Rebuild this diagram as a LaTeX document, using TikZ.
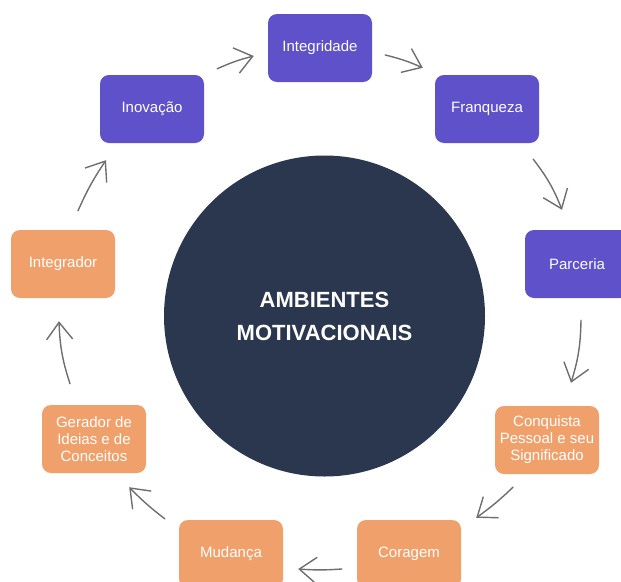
\documentclass[tikz,border=0pt]{standalone}
\usepackage{fontspec}
\setmainfont{Liberation Sans}
\usepackage{tikz}
\usetikzlibrary{arrows.meta}

\definecolor{purple_fill}{HTML}{5E51C9}
\definecolor{orange_fill}{HTML}{F0A06B}
\definecolor{navy_fill}{HTML}{2A374F}
\definecolor{arrow_gray}{HTML}{6E6E6E}

\begin{document}
\begin{tikzpicture}[x=1pt, y=1pt]

	\tikzstyle{value_node}=[rectangle, rounded corners=9pt, fill=purple_fill, text=white, minimum width=104pt, minimum height=68pt, align=center, font=\fontsize{15}{17}\selectfont]
	\tikzstyle{role_node}=[value_node, fill=orange_fill]
	\tikzstyle{center_node}=[circle, fill=navy_fill, text=white, minimum size=321pt, align=center, font=\fontsize{22}{33}\selectfont\bfseries]
	\tikzstyle{flow_arrow}=[-{Straight Barb[length=17pt, width=26pt]}, draw=arrow_gray, line width=1.4pt, line cap=round]

	\clip (0, 0) rectangle (621, -581);

	%Main nodes
	\node[center_node] at (324.5, -316) (center) {AMBIENTES\\MOTIVACIONAIS};

	\node[value_node] at (320, -48) (integridade) {Integridade};
	\node[value_node] at (487, -109) (franqueza) {Franqueza};
	\node[value_node] at (577, -264) (parceria) {Parceria};
	\node[value_node] at (152, -109) (inovacao) {Inovação};

	\node[role_node] at (547, -440) (conquista) {Conquista\\Pessoal e seu\\Significado};
	\node[role_node] at (409, -554) (coragem) {Coragem};
	\node[role_node] at (231, -554) (mudanca) {Mudança};
	\node[role_node] at (94, -439) (gerador) {Gerador de\\Ideias e de\\Conceitos};
	\node[role_node] at (63, -264) (integrador) {Integrador};

	% Connections
	\draw[flow_arrow] ([xshift=13pt, yshift=6pt]inovacao.north east) to[bend left=5] ([xshift=-14pt, yshift=-8pt]integridade.west);
	\draw[flow_arrow] ([xshift=13pt, yshift=-7pt]integridade.east) to[bend left=5] ([xshift=-12pt, yshift=7pt]franqueza.north west);
	\draw[flow_arrow] ([xshift=-6pt, yshift=-16pt]franqueza.south east) to[bend left=8] ([xshift=-15pt, yshift=20pt]parceria.north);
	\draw[flow_arrow] ([xshift=4pt, yshift=-22pt]parceria.south) to[bend left=8] ([xshift=24pt, yshift=23pt]conquista.north);
	\draw[flow_arrow] ([xshift=-34pt, yshift=-13pt]conquista.south) to[bend left=4] ([xshift=15pt, yshift=2pt]coragem.north east);
	\draw[flow_arrow] ([xshift=-15pt, yshift=-15pt]coragem.west) to[bend left=4] ([xshift=15pt, yshift=-15pt]mudanca.east);
	\draw[flow_arrow] ([xshift=-14pt, yshift=1pt]mudanca.north west) to[bend left=4] ([xshift=-17pt, yshift=-14pt]gerador.south east);
	\draw[flow_arrow] ([xshift=-24pt, yshift=21pt]gerador.north) to[bend left=8] ([xshift=-4pt, yshift=-23pt]integrador.south);
	\draw[flow_arrow] ([xshift=15pt, yshift=19pt]integrador.north) to[bend left=5] ([xshift=-46pt, yshift=-17pt]inovacao.south);

\end{tikzpicture}
\end{document}
